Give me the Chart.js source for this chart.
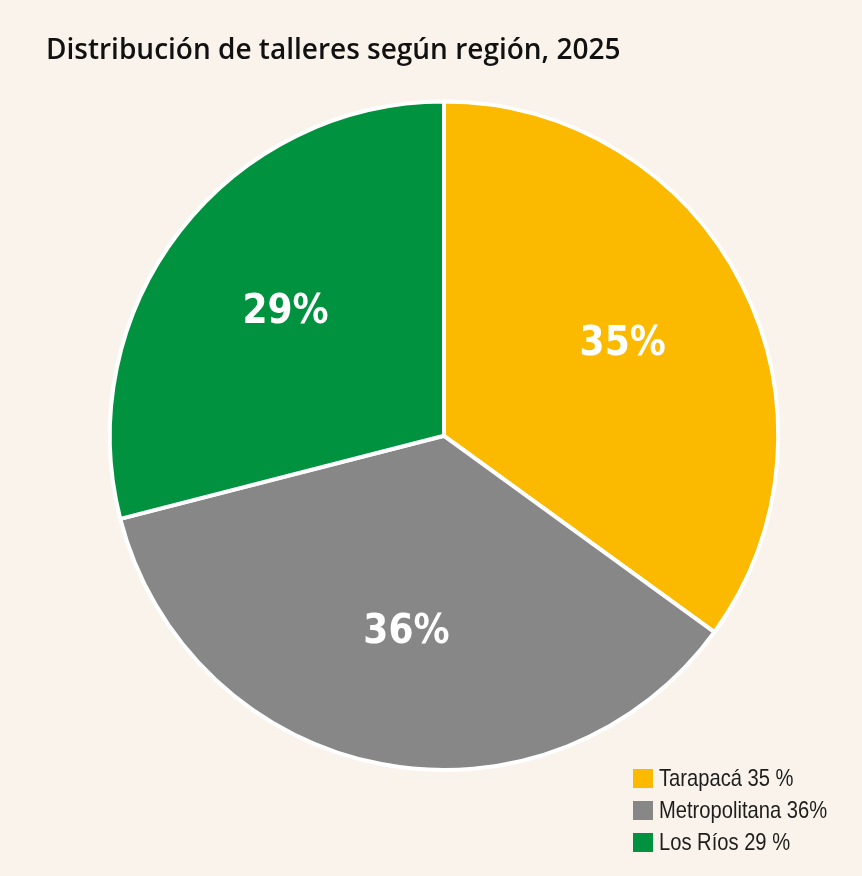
<!DOCTYPE html>
<html>
<head>
<meta charset="utf-8">
<script src="https://cdn.jsdelivr.net/npm/chart.js@4"></script>
<style>
  html, body { margin: 0; padding: 0; background: #f9f3ec; }
  #wrap { position: relative; width: 862px; height: 876px; }
  #legend { position: absolute; left: 633px; top: 762px; font: 24px 'Liberation Sans', Arial, sans-serif; color: #1d1d1b; white-space: nowrap; }
  #legend div { display: flex; align-items: center; height: 32px; }
  #legend span.box { display: inline-block; width: 20px; height: 19px; margin-right: 6px; }
  #legend span.txt { display: inline-block; transform: scaleX(0.84); transform-origin: left center; }
</style>
</head>
<body>
<div id="wrap">
  <canvas id="pie" width="862" height="876"></canvas>
  <div id="legend"></div>
</div>
<script>
const regions = ['Tarapacá', 'Metropolitana', 'Los Ríos'];
const shares = [35, 36, 29];
const legendLabels = ['Tarapacá 35 %', 'Metropolitana 36%', 'Los Ríos 29 %'];
const colors = ['#fbb900', '#878787', '#00923f'];

// percentage labels inside each slice
const sliceLabels = {
    id: 'sliceLabels',
    afterDatasetsDraw(chart) {
        const ctx = chart.ctx;
        const arcs = chart.getDatasetMeta(0).data;
        ctx.save();
        ctx.fillStyle = '#ffffff';
        ctx.font = "bold 40px 'DejaVu Sans Condensed', 'DejaVu Sans', sans-serif";
        ctx.textAlign = 'center';
        ctx.textBaseline = 'middle';
        arcs.forEach((arc, i) => {
            const mid = (arc.startAngle + arc.endAngle) / 2;
            const r = arc.outerRadius * 0.6;
            ctx.fillText(shares[i] + '%', arc.x + Math.cos(mid) * r, arc.y + Math.sin(mid) * r);
        });
        ctx.restore();
    }
};

new Chart(document.getElementById('pie'), {
    type: 'pie',
    data: {
        labels: regions,
        datasets: [{
            data: shares,
            backgroundColor: colors,
            borderColor: '#ffffff',
            borderWidth: 4,
            hoverOffset: 0
        }]
    },
    options: {
        responsive: false,
        animation: false,
        layout: { padding: { left: 46, right: 20, bottom: 104 } },
        plugins: {
            legend: { display: false },
            tooltip: { enabled: false },
            title: {
                display: true,
                text: 'Distribución de talleres según región, 2025',
                align: 'start',
                color: '#111111',
                font: { family: 'Open Sans', size: 28, weight: '600' },
                padding: { top: 34, bottom: 32 }
            }
        }
    },
    plugins: [sliceLabels]
});

const legend = document.getElementById('legend');
legendLabels.forEach((txt, i) => {
    const row = document.createElement('div');
    const box = document.createElement('span');
    box.className = 'box';
    box.style.background = colors[i];
    const label = document.createElement('span');
    label.className = 'txt';
    label.textContent = txt;
    row.appendChild(box);
    row.appendChild(label);
    legend.appendChild(row);
});
</script>
</body>
</html>
